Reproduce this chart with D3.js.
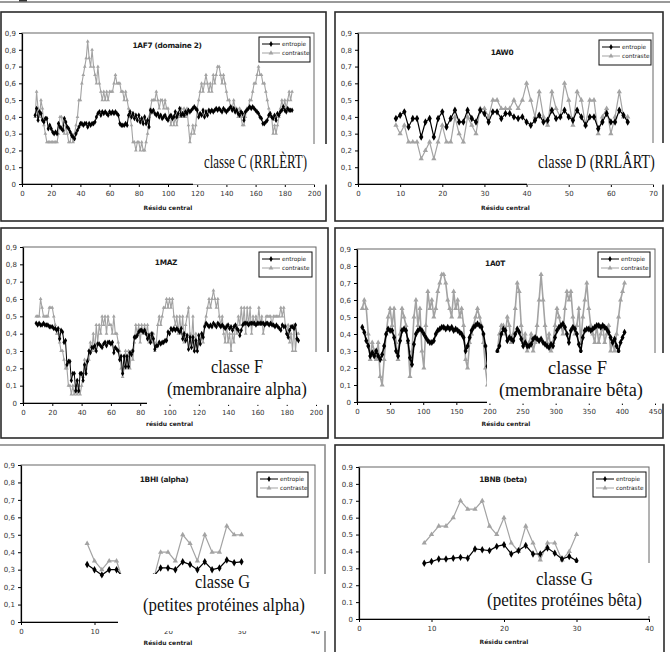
<!DOCTYPE html>
<html>
<head>
<meta charset="utf-8">
<script src="https://cdn.jsdelivr.net/npm/d3@7"></script>
<style>
body { margin: 0; background: #fff; }
</style>
</head>
<body>
<svg id="fig" width="670" height="652" font-family="DejaVu Sans, sans-serif"></svg>
<script>
//////////////////// DATA ////////////////////
const yTicks = [0, 0.1, 0.2, 0.3, 0.4, 0.5, 0.6, 0.7, 0.8, 0.9];
const xTicks200 = [0, 20, 40, 60, 80, 100, 120, 140, 160, 180, 200];
const xTicks70 = [0, 10, 20, 30, 40, 50, 60, 70];
const xTicks450 = [0, 50, 100, 150, 200, 250, 300, 350, 400, 450];
const xTicks40 = [0, 10, 20, 30, 40];

// 1AF7 (domaine 2), residues 9..185
const af7Start = 9;
const af7Ent = [
  0.41, 0.45, 0.38, 0.43, 0.42, 0.38, 0.37, 0.39, 0.39, 0.33,
  0.35, 0.33, 0.31, 0.30, 0.31, 0.30, 0.36, 0.34, 0.33, 0.32,
  0.39, 0.37, 0.34, 0.33, 0.31, 0.29, 0.28, 0.27, 0.30, 0.32,
  0.34, 0.36, 0.36, 0.35, 0.36, 0.36, 0.34, 0.36, 0.35, 0.36,
  0.36, 0.37, 0.40, 0.42, 0.43, 0.41, 0.43, 0.42, 0.43, 0.42,
  0.41, 0.43, 0.42, 0.43, 0.42, 0.43, 0.42, 0.41, 0.36, 0.35,
  0.35, 0.35, 0.36, 0.35, 0.41, 0.43, 0.40, 0.42, 0.39, 0.41,
  0.38, 0.41, 0.37, 0.39, 0.36, 0.40, 0.36, 0.38, 0.34, 0.44,
  0.43, 0.44, 0.42, 0.41, 0.42, 0.40, 0.41, 0.39, 0.40, 0.41,
  0.39, 0.38, 0.40, 0.41, 0.39, 0.40, 0.43, 0.40, 0.42, 0.45,
  0.41, 0.42, 0.41, 0.43, 0.42, 0.44, 0.43, 0.44, 0.45, 0.46,
  0.45, 0.44, 0.40, 0.42, 0.41, 0.44, 0.40, 0.43, 0.41, 0.44,
  0.43, 0.44, 0.43, 0.44, 0.45, 0.44, 0.45, 0.44, 0.43, 0.45,
  0.44, 0.43, 0.44, 0.45, 0.46, 0.44, 0.45, 0.43, 0.44, 0.42,
  0.41, 0.43, 0.42, 0.38, 0.43, 0.44, 0.45, 0.46, 0.45, 0.46,
  0.45, 0.44, 0.43, 0.42, 0.40, 0.39, 0.36, 0.36, 0.37, 0.38,
  0.41, 0.42, 0.40, 0.39, 0.41, 0.38, 0.42, 0.41, 0.43, 0.44,
  0.46, 0.44, 0.43, 0.45, 0.44, 0.44, 0.44
];
const af7Con = [
  0.40, 0.55, 0.45, 0.40, 0.50, 0.45, 0.35, 0.30, 0.25, 0.25,
  0.25, 0.25, 0.25, 0.25, 0.25, 0.25, 0.30, 0.40, 0.40, 0.35,
  0.30, 0.35, 0.30, 0.25, 0.25, 0.30, 0.25, 0.30, 0.35, 0.40,
  0.50, 0.50, 0.60, 0.65, 0.70, 0.75, 0.85, 0.75, 0.70, 0.80,
  0.70, 0.65, 0.60, 0.70, 0.60, 0.55, 0.50, 0.55, 0.50, 0.55,
  0.50, 0.55, 0.55, 0.55, 0.60, 0.65, 0.60, 0.60, 0.60, 0.55,
  0.55, 0.50, 0.55, 0.50, 0.45, 0.40, 0.35, 0.25, 0.25, 0.20,
  0.25, 0.25, 0.20, 0.25, 0.20, 0.20, 0.25, 0.30, 0.40, 0.45,
  0.50, 0.50, 0.50, 0.55, 0.50, 0.45, 0.50, 0.50, 0.45, 0.50,
  0.45, 0.45, 0.40, 0.35, 0.40, 0.35, 0.40, 0.35, 0.40, 0.40,
  0.45, 0.40, 0.45, 0.40, 0.45, 0.35, 0.25, 0.30, 0.35, 0.30,
  0.35, 0.45, 0.50, 0.55, 0.60, 0.55, 0.60, 0.65, 0.60, 0.55,
  0.60, 0.55, 0.65, 0.60, 0.65, 0.70, 0.70, 0.65, 0.60, 0.65,
  0.60, 0.55, 0.50, 0.50, 0.45, 0.45, 0.50, 0.45, 0.45, 0.40,
  0.45, 0.40, 0.35, 0.35, 0.40, 0.45, 0.45, 0.50, 0.50, 0.55,
  0.60, 0.60, 0.65, 0.70, 0.65, 0.65, 0.60, 0.60, 0.55, 0.50,
  0.45, 0.40, 0.40, 0.30, 0.35, 0.30, 0.35, 0.40, 0.45, 0.50,
  0.45, 0.50, 0.45, 0.50, 0.55, 0.50, 0.55
];

// 1AW0, residues 9..64
const aw0Start = 9;
const aw0Ent = [
  0.39, 0.41, 0.43, 0.34, 0.39, 0.39, 0.28, 0.37, 0.39, 0.28,
  0.39, 0.43, 0.34, 0.39, 0.44, 0.37, 0.37, 0.44, 0.39, 0.37,
  0.44, 0.42, 0.37, 0.43, 0.43, 0.39, 0.42, 0.42, 0.40, 0.39,
  0.40, 0.37, 0.35, 0.38, 0.41, 0.37, 0.38, 0.44, 0.39, 0.40,
  0.44, 0.40, 0.38, 0.44, 0.40, 0.35, 0.40, 0.40, 0.33, 0.37,
  0.42, 0.37, 0.37, 0.44, 0.41, 0.37
];
const aw0Con = [
  0.35, 0.30, 0.35, 0.25, 0.25, 0.25, 0.15, 0.20, 0.25, 0.15,
  0.25, 0.35, 0.25, 0.25, 0.40, 0.30, 0.25, 0.40, 0.35, 0.30,
  0.45, 0.45, 0.40, 0.50, 0.50, 0.45, 0.45, 0.45, 0.50, 0.45,
  0.50, 0.60, 0.50, 0.40, 0.55, 0.40, 0.35, 0.55, 0.45, 0.40,
  0.60, 0.50, 0.35, 0.55, 0.50, 0.35, 0.50, 0.50, 0.30, 0.40,
  0.45, 0.30, 0.40, 0.55, 0.40, 0.40
];

// 1MAZ, residues 9..188
const mazStart = 9;
const mazEnt = [
  0.46, 0.45, 0.46, 0.45, 0.45, 0.46, 0.45, 0.45, 0.45, 0.44,
  0.44, 0.44, 0.43, 0.43, 0.42, 0.43, 0.37, 0.42, 0.41, 0.35,
  0.36, 0.22, 0.24, 0.24, 0.13, 0.17, 0.17, 0.07, 0.13, 0.07,
  0.17, 0.17, 0.13, 0.22, 0.17, 0.24, 0.30, 0.29, 0.32, 0.32,
  0.33, 0.30, 0.34, 0.34, 0.33, 0.32, 0.34, 0.35, 0.33, 0.35,
  0.35, 0.34, 0.35, 0.29, 0.32, 0.31, 0.30, 0.25, 0.27, 0.17,
  0.27, 0.21, 0.27, 0.21, 0.29, 0.28, 0.30, 0.38, 0.38, 0.39,
  0.41, 0.42, 0.42, 0.41, 0.42, 0.40, 0.37, 0.39, 0.35, 0.40,
  0.37, 0.31, 0.33, 0.33, 0.35, 0.34, 0.35, 0.35, 0.36, 0.36,
  0.41, 0.40, 0.43, 0.42, 0.43, 0.42, 0.43, 0.42, 0.41, 0.43,
  0.37, 0.40, 0.36, 0.39, 0.31, 0.38, 0.32, 0.38, 0.30, 0.36,
  0.30, 0.39, 0.34, 0.40, 0.38, 0.44, 0.46, 0.45, 0.44, 0.45,
  0.44, 0.46, 0.45, 0.44, 0.46, 0.45, 0.44, 0.45, 0.44, 0.43,
  0.44, 0.45, 0.43, 0.44, 0.42, 0.44, 0.45, 0.43, 0.42, 0.39,
  0.42, 0.45, 0.46, 0.46, 0.46, 0.45, 0.46, 0.46, 0.46, 0.46,
  0.45, 0.46, 0.46, 0.46, 0.46, 0.46, 0.45, 0.46, 0.46, 0.45,
  0.46, 0.45, 0.45, 0.44, 0.45, 0.44, 0.43, 0.42, 0.45, 0.44,
  0.44, 0.40, 0.38, 0.42, 0.44, 0.44, 0.43, 0.45, 0.37, 0.36
];
const mazCon = [
  0.50, 0.50, 0.50, 0.60, 0.55, 0.50, 0.50, 0.50, 0.50, 0.55,
  0.55, 0.55, 0.50, 0.45, 0.40, 0.40, 0.35, 0.30, 0.30, 0.25,
  0.20, 0.20, 0.10, 0.10, 0.05, 0.10, 0.05, 0.10, 0.05, 0.10,
  0.05, 0.10, 0.15, 0.25, 0.20, 0.25, 0.25, 0.35, 0.30, 0.40,
  0.30, 0.45, 0.35, 0.45, 0.40, 0.50, 0.45, 0.50, 0.40, 0.50,
  0.45, 0.45, 0.40, 0.50, 0.40, 0.40, 0.35, 0.30, 0.20, 0.15,
  0.20, 0.30, 0.20, 0.30, 0.20, 0.30, 0.25, 0.35, 0.45, 0.40,
  0.45, 0.35, 0.45, 0.40, 0.45, 0.40, 0.45, 0.35, 0.40, 0.35,
  0.40, 0.30, 0.35, 0.45, 0.50, 0.45, 0.50, 0.55, 0.55, 0.60,
  0.55, 0.60, 0.55, 0.60, 0.50, 0.45, 0.50, 0.40, 0.50, 0.40,
  0.50, 0.35, 0.45, 0.50, 0.55, 0.40, 0.35, 0.50, 0.30, 0.40,
  0.30, 0.35, 0.35, 0.40, 0.35, 0.45, 0.50, 0.55, 0.60, 0.55,
  0.60, 0.65, 0.60, 0.55, 0.60, 0.50, 0.45, 0.50, 0.40, 0.35,
  0.45, 0.35, 0.40, 0.30, 0.40, 0.35, 0.45, 0.40, 0.50, 0.45,
  0.55, 0.45, 0.55, 0.40, 0.55, 0.45, 0.55, 0.40, 0.50, 0.45,
  0.50, 0.45, 0.55, 0.45, 0.50, 0.40, 0.45, 0.50, 0.50, 0.50,
  0.50, 0.45, 0.50, 0.50, 0.50, 0.50, 0.50, 0.55, 0.50, 0.55,
  0.45, 0.40, 0.45, 0.35, 0.40, 0.30, 0.45, 0.30, 0.40, 0.40
];

// 1A0T, read every 3rd residue: 8..197 and 212..404
const a0tStart1 = 8, a0tStart2 = 212, a0tStep = 3;
const a0tEnt1 = [
  0.44, 0.41, 0.36, 0.33, 0.27, 0.29, 0.27, 0.30, 0.27, 0.25,
  0.28, 0.33, 0.40, 0.43, 0.42, 0.42, 0.38, 0.30, 0.27, 0.36,
  0.42, 0.43, 0.42, 0.36, 0.26, 0.22, 0.34, 0.40, 0.42, 0.43,
  0.42, 0.40, 0.38, 0.36, 0.35, 0.35, 0.36, 0.40, 0.42, 0.43,
  0.44, 0.44, 0.43, 0.44, 0.43, 0.44, 0.42, 0.43, 0.42, 0.41,
  0.40, 0.38, 0.30, 0.33, 0.38, 0.42, 0.44, 0.45, 0.46, 0.45,
  0.44, 0.40, 0.33, 0.21
];
const a0tCon1 = [
  0.55, 0.60, 0.55, 0.40, 0.25, 0.35, 0.30, 0.25, 0.35, 0.15,
  0.10, 0.25, 0.40, 0.50, 0.55, 0.45, 0.55, 0.35, 0.25, 0.40,
  0.55, 0.50, 0.45, 0.35, 0.15, 0.30, 0.50, 0.60, 0.45, 0.55,
  0.30, 0.20, 0.45, 0.65, 0.55, 0.60, 0.50, 0.55, 0.65, 0.70,
  0.75, 0.75, 0.70, 0.60, 0.55, 0.50, 0.65, 0.55, 0.60, 0.50,
  0.55, 0.45, 0.25, 0.20, 0.35, 0.40, 0.45, 0.50, 0.55, 0.50,
  0.45, 0.35, 0.20, 0.10
];
const a0tEnt2 = [
  0.30, 0.33, 0.40, 0.43, 0.42, 0.36, 0.38, 0.37, 0.36, 0.40,
  0.43, 0.41, 0.37, 0.33, 0.35, 0.33, 0.33, 0.34, 0.37, 0.38,
  0.37, 0.36, 0.37, 0.35, 0.34, 0.33, 0.32, 0.34, 0.33, 0.38,
  0.42, 0.44, 0.45, 0.46, 0.44, 0.40, 0.35, 0.42, 0.44, 0.43,
  0.40, 0.34, 0.30, 0.38, 0.42, 0.43, 0.43, 0.42, 0.43, 0.44,
  0.45, 0.45, 0.44, 0.45, 0.44, 0.43, 0.41, 0.38, 0.35, 0.37,
  0.33, 0.30, 0.35, 0.38, 0.41
];
const a0tCon2 = [
  0.30, 0.40, 0.45, 0.45, 0.40, 0.50, 0.45, 0.35, 0.40, 0.55,
  0.70, 0.65, 0.45, 0.35, 0.40, 0.30, 0.35, 0.40, 0.30, 0.35,
  0.45, 0.60, 0.75, 0.60, 0.45, 0.35, 0.40, 0.30, 0.35, 0.45,
  0.55, 0.50, 0.45, 0.40, 0.55, 0.65, 0.60, 0.65, 0.50, 0.40,
  0.45, 0.55, 0.35, 0.50, 0.60, 0.70, 0.55, 0.45, 0.40, 0.35,
  0.45, 0.35, 0.40, 0.45, 0.35, 0.40, 0.45, 0.30, 0.35, 0.30,
  0.40, 0.50, 0.60, 0.65, 0.70
];

// 1BHI (alpha), residues 9..30
const bhiStart = 9;
const bhiEnt = [0.33, 0.30, 0.27, 0.30, 0.30, 0.25, 0.24, 0.24, 0.25, 0.26, 0.31,
                0.31, 0.30, 0.345, 0.33, 0.30, 0.345, 0.30, 0.31, 0.355, 0.34, 0.345];
const bhiCon = [0.45, 0.35, 0.30, 0.35, 0.35, 0.22, 0.20, 0.20, 0.22, 0.24, 0.40,
                0.40, 0.35, 0.50, 0.45, 0.35, 0.50, 0.40, 0.40, 0.55, 0.50, 0.50];

// 1BNB (beta), residues 9..30
const bnbStart = 9;
const bnbEnt = [0.33, 0.34, 0.355, 0.355, 0.36, 0.365, 0.36, 0.415, 0.41, 0.405, 0.43,
                0.44, 0.385, 0.405, 0.435, 0.385, 0.385, 0.42, 0.39, 0.355, 0.37, 0.345];
const bnbCon = [0.45, 0.50, 0.55, 0.55, 0.60, 0.70, 0.65, 0.65, 0.70, 0.55, 0.50,
                0.60, 0.45, 0.40, 0.55, 0.45, 0.35, 0.45, 0.45, 0.35, 0.40, 0.50];

//////////////////// DRAWING ////////////////////
const svg = d3.select("#fig");
svg.append("rect").attr("width", 670).attr("height", 652).attr("fill", "#fff");

// scan edge at the top of the page
svg.append("line").attr("x1", 0).attr("x2", 670).attr("y1", 2).attr("y2", 2)
    .attr("stroke", "#999").attr("stroke-width", 2);
svg.append("rect").attr("x", 19).attr("y", 0).attr("width", 8).attr("height", 1.5).attr("fill", "#333");

const commaFmt = d => d === 0 ? "0" : d.toFixed(1).replace(".", ",");
const dotFmt = d => d === 0 ? "0" : d.toFixed(1);

const entColor = "#000";
const conColor = "#a3a3a3";

function drawPanel(p) {
    const g = svg.append("g");
    const x = d3.scaleLinear().domain([0, p.xMax]).range([p.left, p.right]);
    const y = d3.scaleLinear().domain([0, 0.9]).range([p.bottom, p.top]);

    // panel frame
    g.append("rect")
        .attr("x", p.box[0]).attr("y", p.box[1])
        .attr("width", p.box[2] - p.box[0]).attr("height", p.box[3] - p.box[1])
        .attr("fill", "none").attr("stroke", p.boxColor || "#2b2b2b").attr("stroke-width", 1.6);

    // plot area frame
    g.append("rect")
        .attr("x", p.left).attr("y", p.top)
        .attr("width", p.right - p.left).attr("height", p.bottom - p.top)
        .attr("fill", "none").attr("stroke", "#666").attr("stroke-width", 1);

    const line = d3.line().x(d => x(d[0])).y(d => y(d[1]));

    // contraste first, entropie on top
    p.series.forEach(s => {
        const pts = s.values.map((v, i) => [s.start + i * s.step, v]);
        const col = s.kind === "ent" ? entColor : conColor;
        g.append("path").datum(pts)
            .attr("d", line)
            .attr("fill", "none")
            .attr("stroke", col)
            .attr("stroke-width", s.kind === "ent" ? p.lineW[0] : p.lineW[1]);
        const sym = s.kind === "ent" ? d3.symbolDiamond : d3.symbolTriangle;
        g.selectAll(null).data(pts).join("path")
            .attr("d", d3.symbol().type(sym).size(p.markSize[s.kind === "ent" ? 0 : 1]))
            .attr("transform", d => `translate(${x(d[0])},${y(d[1])})`)
            .attr("fill", col);
    });

    // axes
    const yAxis = d3.axisLeft(y).tickValues(yTicks).tickSize(3).tickSizeOuter(0)
        .tickPadding(3).tickFormat(p.yFmt);
    const xAxis = d3.axisBottom(x).tickValues(p.xTicks).tickSize(3).tickSizeOuter(0)
        .tickPadding(4).tickFormat(d3.format("d"));
    const ya = g.append("g").attr("transform", `translate(${p.left},0)`).call(yAxis);
    const xa = g.append("g").attr("transform", `translate(0,${p.bottom})`).call(xAxis);
    [ya, xa].forEach(a => {
        a.attr("font-family", null).attr("font-size", null);
        a.select(".domain").attr("stroke", "#000").attr("stroke-width", 1.2);
        a.selectAll(".tick line").attr("stroke", "#000");
        a.selectAll("text").attr("font-size", 7).attr("fill", "#333");
    });

    // title
    g.append("text").attr("x", p.titlePos[0]).attr("y", p.titlePos[1])
        .attr("text-anchor", "middle").attr("font-size", 7.4).attr("font-weight", "bold")
        .attr("letter-spacing", -0.3).attr("fill", "#1a1a1a").text(p.title);

    // axis label
    g.append("text").attr("x", (p.left + p.right) / 2).attr("y", p.xlabelY)
        .attr("text-anchor", "middle").attr("font-size", 6).attr("font-weight", "bold")
        .attr("fill", "#222").text(p.xlabel);

    // legend
    const lg = g.append("g").attr("transform", `translate(${p.legend[0]},${p.legend[1]})`);
    lg.append("rect").attr("width", p.legend[2]).attr("height", 25)
        .attr("fill", "#fff").attr("stroke", "#111").attr("stroke-width", 1);
    [["entropie", entColor, d3.symbolDiamond, 7], ["contraste", conColor, d3.symbolTriangle, 16]]
        .forEach(([name, col, sym, ly]) => {
            lg.append("line").attr("x1", 3).attr("x2", 21).attr("y1", ly).attr("y2", ly)
                .attr("stroke", col).attr("stroke-width", 1);
            lg.append("path").attr("d", d3.symbol().type(sym).size(10)())
                .attr("transform", `translate(12,${ly})`).attr("fill", col);
            lg.append("text").attr("x", 23).attr("y", ly + 2).attr("font-size", 5.8)
                .attr("fill", "#222").text(name);
        });

    // white overlay boxes hiding part of the chart
    p.masks.forEach(m => {
        g.append("rect").attr("x", m[0]).attr("y", m[1])
            .attr("width", m[2] - m[0]).attr("height", m[3] - m[1]).attr("fill", "#fff");
    });

    // class annotation (serif, squeezed horizontally like the scan)
    p.notes.forEach(n => {
        const t = g.append("text").attr("x", 0).attr("y", 0)
            .attr("font-family", "Liberation Serif, serif").attr("font-size", 18.5)
            .attr("fill", "#111").text(n.t);
        const natural = t.node().getComputedTextLength();
        t.attr("transform", `translate(${n.x},${n.y}) scale(${n.w / natural},1)`);
    });
}

const ms = [9, 6];
const msBig = [16, 12];

const panels = [
    {
        box: [1, 12, 326, 221], left: 22, right: 314, top: 33, bottom: 184, xMax: 200, xTicks: xTicks200,
        yFmt: commaFmt, title: "1AF7 (domaine 2)", titlePos: [167, 48],
        xlabel: "Résidu central", xlabelY: 210,
        legend: [259, 37, 51], markSize: ms, lineW: [1, 1.1],
        series: [
            {kind: "con", start: af7Start, step: 1, values: af7Con},
            {kind: "ent", start: af7Start, step: 1, values: af7Ent}
        ],
        masks: [[193, 144, 331, 184.6]],
        notes: [
            {t: "classe C (RRLÈRT)", x: 204, y: 168, w: 103}
        ]
    },
    {
        box: [335, 12, 663, 221], left: 358, right: 653, top: 33, bottom: 184, xMax: 70, xTicks: xTicks70,
        yFmt: commaFmt, title: "1AW0", titlePos: [502, 55],
        xlabel: "Résidu central", xlabelY: 210,
        legend: [599, 40, 52], markSize: msBig, lineW: [1.2, 1.2],
        series: [
            {kind: "con", start: aw0Start, step: 1, values: aw0Con},
            {kind: "ent", start: aw0Start, step: 1, values: aw0Ent}
        ],
        masks: [[527, 143, 666, 184.6]],
        notes: [
            {t: "classe D (RRLÂRT)", x: 538, y: 168, w: 117}
        ]
    },
    {
        box: [1, 228, 328, 438], left: 23, right: 316, top: 247, bottom: 403, xMax: 200, xTicks: xTicks200,
        yFmt: commaFmt, title: "1MAZ", titlePos: [166, 265],
        xlabel: "résidu central", xlabelY: 426,
        legend: [259, 252, 53], markSize: ms, lineW: [1, 1.1],
        series: [
            {kind: "con", start: mazStart, step: 1, values: mazCon},
            {kind: "ent", start: mazStart, step: 1, values: mazEnt}
        ],
        masks: [[200, 352, 331, 404.6], [147, 376, 331, 404.6]],
        notes: [
            {t: "classe F", x: 211, y: 373, w: 52},
            {t: "(membranaire alpha)", x: 167, y: 395, w: 140}
        ]
    },
    {
        box: [335, 228, 663, 438], left: 357, right: 655, top: 249, bottom: 402, xMax: 450, xTicks: xTicks450,
        yFmt: commaFmt, title: "1A0T", titlePos: [495, 266],
        xlabel: "Résidu central", xlabelY: 426,
        legend: [598, 252, 52], markSize: [14, 11], lineW: [1.6, 1.6],
        series: [
            {kind: "con", start: a0tStart1, step: a0tStep, values: a0tCon1},
            {kind: "con", start: a0tStart2, step: a0tStep, values: a0tCon2},
            {kind: "ent", start: a0tStart1, step: a0tStep, values: a0tEnt1},
            {kind: "ent", start: a0tStart2, step: a0tStep, values: a0tEnt2}
        ],
        masks: [[487, 353, 666, 403.6]],
        notes: [
            {t: "classe F", x: 548, y: 374, w: 59},
            {t: "(membranaire bêta)", x: 499, y: 396, w: 144}
        ]
    },
    {
        box: [-2, 445, 325, 660], boxColor: "#8a8a8a", left: 21, right: 315, top: 465, bottom: 622, xMax: 40, xTicks: xTicks40,
        yFmt: commaFmt, title: "1BHI (alpha)", titlePos: [164, 482],
        xlabel: "Résidu central", xlabelY: 645,
        legend: [257, 472, 51], markSize: msBig, lineW: [1.2, 1.2],
        series: [
            {kind: "con", start: bhiStart, step: 1, values: bhiCon},
            {kind: "ent", start: bhiStart, step: 1, values: bhiEnt}
        ],
        masks: [[118, 574, 331, 631]],
        notes: [
            {t: "classe G", x: 195, y: 588, w: 55},
            {t: "(petites protéines alpha)", x: 143, y: 611, w: 162}
        ]
    },
    {
        box: [335, 445, 664, 660], left: 359, right: 649, top: 467, bottom: 619, xMax: 40, xTicks: xTicks40,
        yFmt: dotFmt, title: "1BNB (beta)", titlePos: [503, 482],
        xlabel: "Résidu central", xlabelY: 644,
        legend: [593, 472, 53], markSize: msBig, lineW: [1.2, 1.2],
        series: [
            {kind: "con", start: bnbStart, step: 1, values: bnbCon},
            {kind: "ent", start: bnbStart, step: 1, values: bnbEnt}
        ],
        masks: [[487, 563, 651, 616]],
        notes: [
            {t: "classe G", x: 536, y: 585, w: 57},
            {t: "(petites protéines bêta)", x: 487, y: 606, w: 155}
        ]
    }
];

panels.forEach(drawPanel);
</script>
</body>
</html>
